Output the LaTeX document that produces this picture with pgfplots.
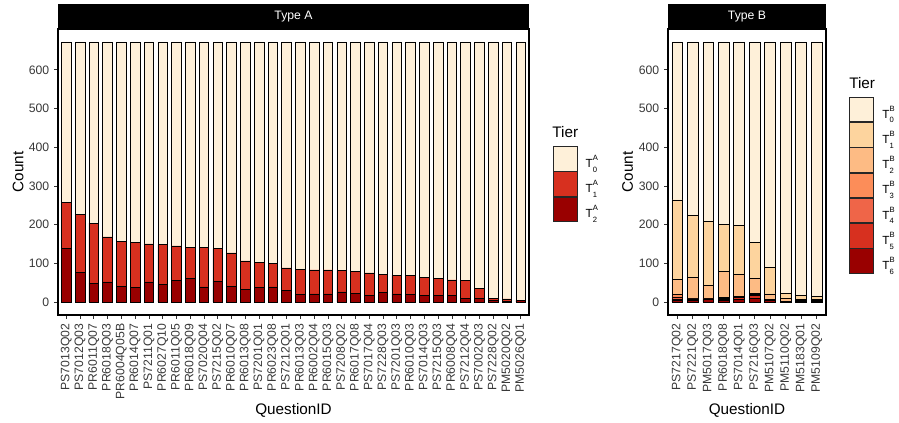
\documentclass[border=0pt]{standalone}
\usepackage{fontspec}
\setmainfont{Liberation Sans}
\usepackage{pgfplots}
\usepackage{pgfplotstable}
\pgfplotsset{compat=1.18}

\definecolor{c0}{HTML}{FEF0D9}
\definecolor{c1}{HTML}{FDD49E}
\definecolor{c2}{HTML}{FDBB84}
\definecolor{c3}{HTML}{FC8D59}
\definecolor{c4}{HTML}{EF6548}
\definecolor{c5}{HTML}{D7301F}
\definecolor{c6}{HTML}{990000}
\definecolor{axgray}{gray}{0.22}

\newcommand\tier[2]{T\makebox[0pt][l]{\raisebox{5pt}{\fontsize{5.5}{6}\selectfont #1}}\raisebox{-3.4pt}{\fontsize{5.5}{6}\selectfont #2}}

\pgfplotstableread{
x T2 T1 T0
1 139 118 415
2 76 151 445
3 49 155 468
4 52 116 504
5 40 116 516
6 37 117 518
7 52 98 522
8 45 104 523
9 56 89 527
10 61 81 530
11 39 102 531
12 54 84 534
13 41 86 545
14 32 74 566
15 38 65 569
16 39 60 573
17 31 57 584
18 20 65 587
19 21 62 589
20 21 62 589
21 26 56 590
22 23 56 593
23 17 58 597
24 25 47 600
25 21 48 603
26 19 50 603
27 18 45 609
28 16 44 612
29 18 39 615
30 10 45 617
31 9 26 637
32 4 6 662
33 2 6 664
34 3 1 668
}\dataA

\pgfplotstableread{
x T6 T5 T4 T3 T2 T1 T0
1 4 4 5 6 39 206 408
2 3 3 2 2 54 160 448
3 6 2 1 1 32 166 464
4 4 3 2 3 66 122 472
5 6 6 2 1 56 128 473
6 10 7 3 3 38 94 517
7 3 1 1 1 15 68 583
8 1 0 0 1 7 14 649
9 2 1 0 1 2 10 656
10 2 1 1 1 2 8 657
}\dataB

\pgfplotsset{
  panel/.style={
    scale only axis, height=205.92pt, clip=false,
    ybar stacked, bar width=0.7,
    ymin=-33.6, ymax=705.6,
    ytick={0,100,...,600},
    enlargelimits=false,
    tick pos=left, tick align=outside, major tick length=2.8pt,
    tick style={black!80, line width=0.5pt},
    axis line style={line width=0.75pt},
    every tick label/.append style={text=axgray},
    yticklabel style={font=\fontsize{8.8}{10}\selectfont},
    xticklabel style={font=\fontsize{8.8}{10}\selectfont, rotate=90, anchor=east},
    /pgf/number format/assume math mode=true,
    label style={font=\fontsize{11}{13}\selectfont},
    xlabel={QuestionID}, ylabel={Count},
    xlabel style={at={(axis description cs:0.5,-0.332)}, anchor=center},
    every axis title/.style={at={(0.5,1)}, anchor=south, fill=black, text=white, inner sep=0pt, minimum height=18pt, font=\fontsize{8.8}{10}\selectfont},
    every axis plot/.append style={draw=black, line width=0.5pt},
    reverse legend,
    legend image code/.code={\draw[#1, draw=black!85, line width=0.5pt] (0pt,-6.2pt) rectangle (17.28pt,11.5pt);},
    legend style={draw=none, fill=none, anchor=north west, inner sep=0pt, outer sep=0pt, row sep=0pt, column sep=6pt, font=\fontsize{8.5}{9}\selectfont, nodes={inner sep=0pt}},
    legend cell align=left,
  }
}

\begin{document}
\begin{tikzpicture}
\useasboundingbox (-41.76pt,-77.76pt) rectangle (605.52pt,226.8pt);
\begin{axis}[panel, width=339.12pt,
  xmin=0.4, xmax=34.6,
  xtick={1,...,34},
  xticklabels={PS7013Q02,PS7012Q03,PR6011Q07,PR6018Q03,PR6004Q05B,PR6014Q07,PS7211Q01,PR6027Q10,PR6011Q05,PR6018Q09,PS7020Q04,PS7215Q02,PR6010Q07,PR6013Q08,PS7201Q01,PR6023Q08,PS7212Q01,PR6013Q03,PR6002Q04,PR6015Q03,PS7208Q02,PR6017Q08,PS7017Q04,PS7228Q03,PS7201Q03,PR6010Q03,PS7014Q03,PS7215Q03,PR6008Q04,PS7212Q04,PS7002Q03,PS7228Q02,PM5020Q02,PM5026Q01},
  title={Type A}, title style={minimum width=339.12pt},
  ylabel style={at={(axis description cs:-0.0849,0.5)}, anchor=center},
  legend style={at={(1.0503,0.591)}},
]
\addplot[fill=c6] table[x=x,y=T2]{\dataA}; \addlegendentry{\tier{A}{2}}
\addplot[fill=c5] table[x=x,y=T1]{\dataA}; \addlegendentry{\tier{A}{1}}
\addplot[fill=c0] table[x=x,y=T0]{\dataA}; \addlegendentry{\tier{A}{0}}
\node[anchor=west, inner sep=0pt, font=\fontsize{11}{13}\selectfont] at (axis description cs:1.049,0.64) {Tier};
\end{axis}
\begin{axis}[panel, width=113.76pt, at={(439.2pt,0pt)},
  xmin=0.4, xmax=10.6,
  xtick={1,...,10},
  xticklabels={PS7217Q02,PS7221Q02,PM5017Q03,PR6018Q08,PS7014Q01,PS7216Q03,PM5107Q02,PM5110Q02,PM5183Q01,PM5109Q02},
  title={Type B}, title style={minimum width=113.76pt},
  ylabel style={at={(axis description cs:-0.256,0.5)}, anchor=center},
  legend style={at={(1.1475,0.7633)}},
]
\addplot[fill=c6] table[x=x,y=T6]{\dataB}; \addlegendentry{\tier{B}{6}}
\addplot[fill=c5] table[x=x,y=T5]{\dataB}; \addlegendentry{\tier{B}{5}}
\addplot[fill=c4] table[x=x,y=T4]{\dataB}; \addlegendentry{\tier{B}{4}}
\addplot[fill=c3] table[x=x,y=T3]{\dataB}; \addlegendentry{\tier{B}{3}}
\addplot[fill=c2] table[x=x,y=T2]{\dataB}; \addlegendentry{\tier{B}{2}}
\addplot[fill=c1] table[x=x,y=T1]{\dataB}; \addlegendentry{\tier{B}{1}}
\addplot[fill=c0] table[x=x,y=T0]{\dataB}; \addlegendentry{\tier{B}{0}}
\node[anchor=west, inner sep=0pt, font=\fontsize{11}{13}\selectfont] at (axis description cs:1.1456,0.812) {Tier};
\end{axis}
\end{tikzpicture}
\end{document}
